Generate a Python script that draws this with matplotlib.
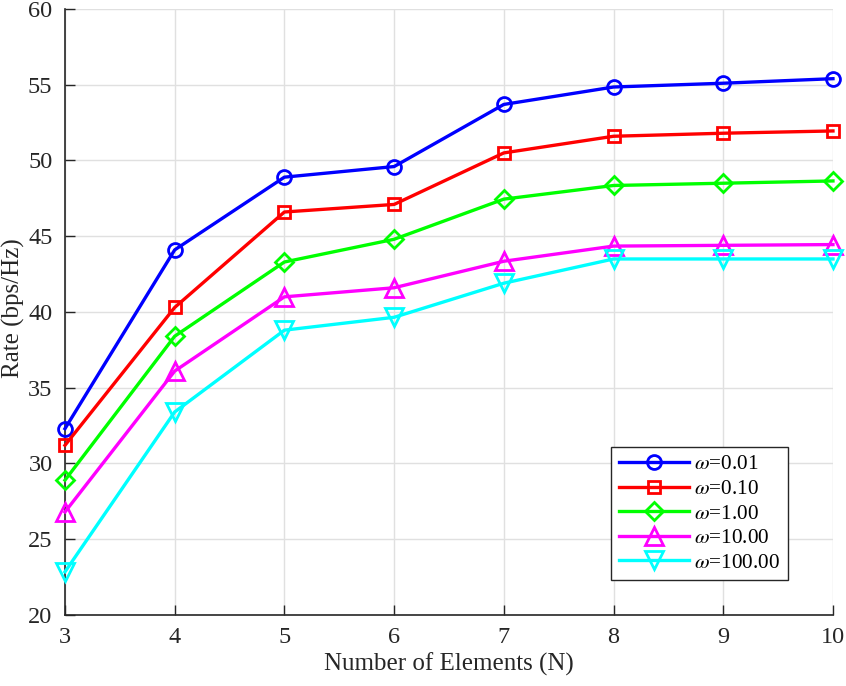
import matplotlib
matplotlib.use("Agg")
import matplotlib.pyplot as plt

plt.rcParams['font.family'] = ['Liberation Serif', 'DejaVu Serif']
plt.rcParams['mathtext.fontset'] = 'stix'

N = [3, 4, 5, 6, 7, 8, 9, 10]
rate_001 = [32.3, 44.1, 48.9, 49.6, 53.7, 54.85, 55.1, 55.4]
rate_010 = [31.2, 40.3, 46.6, 47.1, 50.5, 51.6, 51.8, 51.95]
rate_1 = [28.9, 38.4, 43.3, 44.8, 47.45, 48.35, 48.5, 48.65]
rate_10 = [26.8, 36.1, 41.0, 41.6, 43.35, 44.35, 44.4, 44.45]
rate_100 = [22.85, 33.4, 38.8, 39.65, 41.9, 43.5, 43.5, 43.5]
labels = [r'$\omega$=0.01', r'$\omega$=0.10', r'$\omega$=1.00', r'$\omega$=10.00', r'$\omega$=100.00']
colors = ['#0000ff', '#ff0000', '#00ff00', '#ff00ff', '#00ffff']
markers = ['o', 's', 'D', '^', 'v']
msizes = [10, 8.5, 9.5, 12.5, 12.5]

fig = plt.figure(figsize=(8.46, 6.86), dpi=100)
ax = fig.add_axes([0.0768, 0.1035, 0.9078, 0.8834])

series = [rate_001, rate_010, rate_1, rate_10, rate_100]
for y, lab, c, m, ms in zip(series, labels, colors, markers, msizes):
    ax.plot(N, y, color=c, marker=m, markersize=ms, markerfacecolor='none',
            markeredgewidth=2, linewidth=2.4, label=lab, clip_on=False, zorder=3)

ax.set_xlim(3, 10)
ax.set_ylim(20, 60)
ax.set_xticks(range(3, 11))
ax.set_yticks(range(20, 61, 5))
ax.grid(True, color='#e0e0e0', linewidth=1)
ax.set_axisbelow(True)
for s in ['top', 'right']:
    ax.spines[s].set_visible(False)
for s in ['left', 'bottom']:
    ax.spines[s].set_color('#262626')
    ax.spines[s].set_linewidth(1.2)
ax.tick_params(direction='in', length=7, width=1, colors='#262626', labelsize=17.5, pad=9)
ax.set_xlabel('Number of Elements (N)', fontsize=18, color='#262626', labelpad=3)
ax.set_ylabel('Rate (bps/Hz)', fontsize=18, color='#262626')
ax.yaxis.set_label_coords(-0.052, 0.507)

leg = ax.legend(loc='lower right', bbox_to_anchor=(0.955, 0.04), fontsize=15.3,
                frameon=True, fancybox=False, edgecolor='#262626', framealpha=1,
                handlelength=3.3, handletextpad=0.25, labelspacing=0.22, borderpad=0.35)
leg.get_frame().set_linewidth(1)
leg.set_zorder(5)

fig.savefig('out.png', dpi=100)
